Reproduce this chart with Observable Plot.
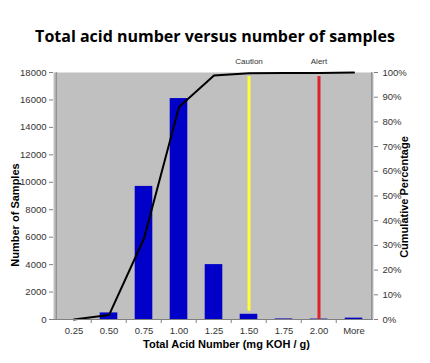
<!DOCTYPE html>
<html>
<head>
<meta charset="utf-8">
<script src="https://cdn.jsdelivr.net/npm/d3@7"></script>
<script src="https://cdn.jsdelivr.net/npm/@observablehq/plot@0.6"></script>
<style>
  html, body { margin: 0; padding: 0; background: #fff; }
  #title { height: 50px; width: 430px; box-sizing: border-box; padding-top: 25px; text-align: center;
    font: bold 16px "Open Sans", sans-serif; color: #000; line-height: 22px; }
  svg { display: block; }
</style>
</head>
<body>
<div id="title">Total acid number versus number of samples</div>
<div id="chart"></div>
<script>
const categories = ["0.25", "0.50", "0.75", "1.00", "1.25", "1.50", "1.75", "2.00", "More"];
const counts = [0, 480, 9700, 16100, 4000, 380, 40, 30, 100];
const cumulativePct = [0, 1.8, 32.8, 86, 98.8, 99.7, 99.8, 99.8, 100];
const leftTicks = [0, 2000, 4000, 6000, 8000, 10000, 12000, 14000, 16000, 18000];
const rightTicksPct = [0, 10, 20, 30, 40, 50, 60, 70, 80, 90, 100];
const thresholdLabels = ["Caution", "Alert"];
const thresholdAt = ["1.50", "2.00"];
const thresholdColors = ["#ffff33", "#e0202a"];
const thresholdFrom = [600, 0];
const thresholdTo = 17700;

const yMax = 18000;
const pctToY = p => p * yMax / 100;
const data = categories.map((c, i) => ({cat: c, count: counts[i], pct: cumulativePct[i]}));
const thresholds = thresholdLabels.map((l, i) => ({label: l, x: thresholdAt[i], color: thresholdColors[i], y1: thresholdFrom[i], y2: thresholdTo}));

const W = 430, H = 313, mt = 22, mb = 44, ml = 53, mr = 57;
const bw = (W - ml - mr) / categories.length;
const ph = H - mt - mb;
const axisColor = "#808080";

const chart = Plot.plot({
  width: W, height: H,
  marginTop: mt, marginBottom: mb, marginLeft: ml, marginRight: mr,
  style: {fontFamily: "'Liberation Sans', Arial, sans-serif", background: "#fff", color: "#333"},
  x: {domain: categories, padding: 0},
  y: {domain: [0, yMax]},
  marks: [
    Plot.frame({fill: "#c0c0c0", stroke: null}),
    Plot.barY(data, {x: "cat", y: "count", fill: "#0000c8", insetLeft: 8.7, insetRight: 8.7}),
    Plot.ruleX(thresholds, {x: "x", y1: "y1", y2: "y2", stroke: "color", strokeWidth: 3}),
    Plot.line(data, {x: "cat", y: d => pctToY(d.pct), stroke: "#000", strokeWidth: 2}),
    Plot.text(thresholds, {x: "x", y: yMax, dy: -11, text: "label", fontSize: 8, fill: "#333"}),
    // axis lines
    Plot.ruleX([categories[0]], {x: d => d, dx: -bw / 2, stroke: axisColor}),
    Plot.ruleX([categories[categories.length - 1]], {x: d => d, dx: bw / 2, stroke: axisColor}),
    Plot.ruleY([0], {stroke: axisColor}),
    // x band boundary ticks
    Plot.ruleX(categories.slice(1), {x: d => d, dx: -bw / 2, insetTop: ph, insetBottom: -4, stroke: axisColor}),
    Plot.axisX({tickSize: 0, tickPadding: 8, fontSize: 9.5, label: null, fill: "#333"}),
    Plot.axisY({anchor: "left", ticks: leftTicks, tickSize: 4, tickPadding: 3, fontSize: 9.5, label: null, stroke: axisColor, tickFormat: d => String(d)}),
    Plot.axisY({anchor: "right", ticks: rightTicksPct.map(pctToY), tickSize: 4, tickPadding: 5, fontSize: 9.5, label: null, stroke: axisColor,
      tickFormat: v => Math.round(v * 100 / yMax) + "%"}),
    Plot.text(["Number of Samples"], {frameAnchor: "left", textAnchor: "middle", dx: -38, dy: 19, rotate: -90, fontSize: 11, fontWeight: "bold", fill: "#000"}),
    Plot.text(["Cumulative Percentage"], {frameAnchor: "right", textAnchor: "middle", dx: 31, dy: 1, rotate: -90, fontSize: 11, fontWeight: "bold", fill: "#000"}),
    Plot.text(["Total Acid Number (mg KOH / g)"], {frameAnchor: "bottom", dx: 13, dy: 28, fontSize: 11, fontWeight: "bold", fill: "#000"})
  ]
});
document.getElementById("chart").appendChild(chart);
</script>
</body>
</html>
